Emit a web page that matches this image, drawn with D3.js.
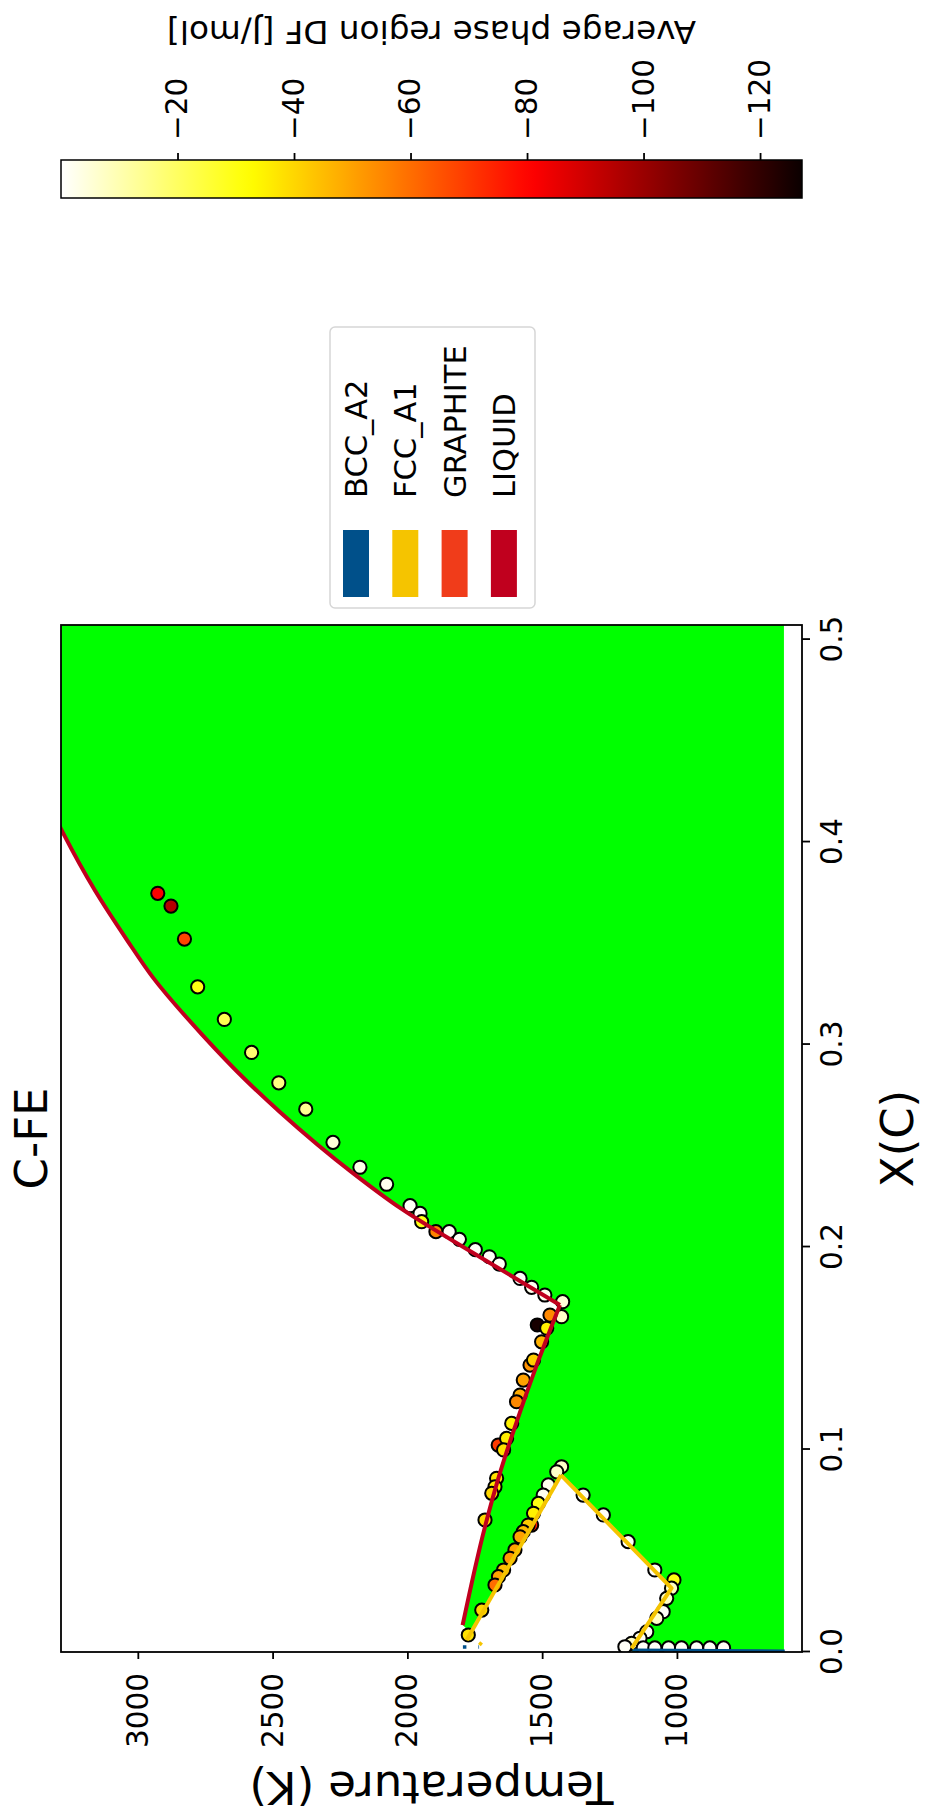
<!DOCTYPE html>
<html>
<head>
<meta charset="utf-8">
<script src="https://cdn.jsdelivr.net/npm/d3@7"></script>
<style>
  body { margin: 0; background: #fff; }
  text { font-family: "DejaVu Sans", sans-serif; fill: #000; }
</style>
</head>
<body>
<div id="chart"></div>
<script>
// ---- data ----
let xTicks = [0, 0.1, 0.2, 0.3, 0.4, 0.5];
let tTicks = [1000, 1500, 2000, 2500, 3000];
let dfTicks = [-20, -40, -60, -80, -100, -120];
let dfRange = [-127.2, 0];

let phases = ["BCC_A2", "FCC_A1", "GRAPHITE", "LIQUID"];
let phaseColors = ["#00508a", "#f5c400", "#f03c1a", "#c0001e"];

// phase boundary lines [X(C), T]
let liquidusFe = [[0.0133, 1795], [0.0619, 1712], [0.0882, 1657], [0.1096, 1605], [0.1407, 1523], [0.1714, 1434]];
let liquidusC = [[0.1714, 1434], [0.1951, 1731], [0.2193, 2027], [0.2365, 2202], [0.2667, 2473], [0.2825, 2600],
                 [0.3047, 2760], [0.3333, 2945], [0.3516, 3040], [0.3763, 3160], [0.4044, 3277], [0.4200, 3335]];
let fccLeft = [[0.0059, 1780], [0.0874, 1430]];
let fccRight = [[0.0874, 1430], [0.0315, 1020], [0.0018, 1168]];
let bccLine = [[0.0010, 1165], [0.0005, 600]];
let bccDelta = [[0.0025, 1794], [0.0025, 1734]];
let fccDelta = [[0.0046, 1734], [0.0018, 1706]];

// predicted region (green)
let regionPoly = [[0, 603], [0, 1165], [0.0018, 1168], [0.0315, 1020], [0.0874, 1430], [0.0095, 1764], [0.0133, 1795],
                  [0.0619, 1712], [0.0882, 1657], [0.1096, 1605], [0.1407, 1523], [0.1714, 1434],
                  [0.1951, 1731], [0.2193, 2027], [0.2365, 2202], [0.2667, 2473], [0.2825, 2600], [0.3047, 2760],
                  [0.3333, 2945], [0.3516, 3040], [0.3763, 3160], [0.4044, 3277], [0.4200, 3335],
                  [0.52, 3335], [0.52, 603]];

// scatter points: X(C), T (K), average DF (J/mol)
let ptX = [0.3747, 0.3684, 0.3521, 0.3285, 0.3124, 0.2961, 0.2811, 0.2681, 0.2517, 0.2394, 0.2310, 0.2204, 0.2166,
           0.2125, 0.2076, 0.2076, 0.2038, 0.1987, 0.1952, 0.1916, 0.1845, 0.1801, 0.1763, 0.1730, 0.1656, 0.1664,
           0.1615, 0.1599, 0.1532, 0.1417, 0.1442, 0.1343, 0.1269, 0.1236, 0.1129, 0.1022, 0.1055, 0.0998, 0.0858,
           0.0816, 0.0784, 0.0652, 0.0207, 0.0084,
           0.0915, 0.0890, 0.0825, 0.0775, 0.0734, 0.0685, 0.0627, 0.0627, 0.0594, 0.0569, 0.0504, 0.0463, 0.0405,
           0.0372, 0.0331,
           0.0775, 0.0677, 0.0545, 0.0405, 0.0356, 0.0315, 0.0265, 0.0199, 0.0166, 0.0100, 0.0068, 0.0043, 0.0026,
           0.0020, 0.0020, 0.0020, 0.0020, 0.0020, 0.0020, 0.0020];
let ptT = [2926, 2877, 2827, 2778, 2679, 2578, 2477, 2377, 2276, 2176, 2077, 1990, 1953,
           1947, 1894, 1845, 1807, 1748, 1696, 1659, 1582, 1539, 1490, 1424, 1428, 1471,
           1518, 1483, 1502, 1545, 1532, 1570, 1582, 1595, 1613, 1663, 1632, 1643, 1669,
           1675, 1687, 1712, 1724, 1774,
           1428, 1446, 1477, 1496, 1514, 1532, 1539, 1552, 1570, 1582, 1601, 1619, 1643,
           1662, 1675,
           1348, 1273, 1181, 1082, 1011, 1020, 1038, 1051, 1075, 1112, 1137, 1168, 1193,
           1125, 1082, 1031, 983, 927, 878, 827];
let ptDF = [-82, -95, -68, -30, -22, -18, -16, -14, -5, -3, -2, -1, -1,
            -30, -56, -1, -1, -1, -1, -1, -1, -2, -2, -5, -7, -55,
            -125, -35, -47, -53, -42, -50, -48, -55, -35, -70, -36, -38, -38,
            -36, -40, -40, -40, -38,
            -7, -7, -2, -2, -30, -35, -75, -42, -45, -50, -50, -52, -45,
            -50, -60,
            -1, -1, -1, -1, -30, -8, -7, -1, -7, -1, -1, -7, -1,
            -1, -1, -1, -1, -1, -1, -1];

// ---- layout (unrotated frame, then turned 90deg counter-clockwise) ----
let W = 1820, H = 931;
let plot = {left: 168, right: 1195, top: 61, bottom: 802};
let cbar = {left: 1622, right: 1660};

let svg = d3.select("#chart")
    .append("svg")
    .attr("width", H)
    .attr("height", W);

svg.append("rect").attr("width", H).attr("height", W).attr("fill", "#fff");

let g = svg.append("g")
    .attr("transform", "translate(0," + W + ") rotate(-90)");

let x = d3.scaleLinear().domain([0, 0.5072]).range([plot.left, plot.right]);
let y = d3.scaleLinear().domain([536, 3285]).range([plot.bottom, plot.top]);
let c = d3.scaleLinear().domain(dfRange).range([plot.bottom, plot.top]);

// matplotlib "hot"
let hot = d3.scaleLinear()
    .domain([0, 0.365, 0.746, 1])
    .range(["#0b0000", "#ff0000", "#ffff00", "#ffffff"])
    .clamp(true);
let colorOf = v => hot((v - dfRange[0]) / (dfRange[1] - dfRange[0]));

let line = d3.line()
    .x(d => x(d[0]))
    .y(d => y(d[1]));

let defs = svg.append("defs");
defs.append("clipPath").attr("id", "plotClip")
    .append("rect")
    .attr("x", plot.left).attr("y", plot.top)
    .attr("width", plot.right - plot.left)
    .attr("height", plot.bottom - plot.top);

let grad = defs.append("linearGradient")
    .attr("id", "hotGrad")
    .attr("x1", 0).attr("y1", 0).attr("x2", 0).attr("y2", 1);
d3.range(0, 1.0001, 0.02).forEach(o => {
    grad.append("stop").attr("offset", o).attr("stop-color", hot(1 - o));
});

let body = g.append("g").attr("clip-path", "url(#plotClip)");

// green region
body.append("path")
    .datum(regionPoly)
    .attr("fill", "#00ff00")
    .attr("d", d => line(d) + "Z");

// scatter
body.selectAll("circle")
    .data(ptX.map((d, i) => ({x: d, t: ptT[i], df: ptDF[i]})))
    .enter().append("circle")
    .attr("cx", d => x(d.x))
    .attr("cy", d => y(d.t))
    .attr("r", 6.6)
    .attr("fill", d => colorOf(d.df))
    .attr("stroke", "#000")
    .attr("stroke-width", 2);

// boundary lines
let curved = d3.line()
    .x(d => x(d[0]))
    .y(d => y(d[1]))
    .curve(d3.curveMonotoneX);

body.append("path").datum(bccLine)
    .attr("fill", "none").attr("stroke", phaseColors[0]).attr("stroke-width", 3)
    .attr("d", line);
body.append("path").datum(bccDelta)
    .attr("fill", "none").attr("stroke", phaseColors[0]).attr("stroke-width", 3.5)
    .attr("stroke-dasharray", "3.5 12").attr("d", line);
body.append("path").datum(fccDelta)
    .attr("fill", "none").attr("stroke", phaseColors[1]).attr("stroke-width", 3.5)
    .attr("stroke-dasharray", "3.5 7").attr("d", line);
[fccLeft, fccRight].forEach(seg => {
    body.append("path").datum(seg)
        .attr("fill", "none").attr("stroke", phaseColors[1]).attr("stroke-width", 4)
        .attr("stroke-linejoin", "round")
        .attr("d", line);
});
body.append("path").datum(liquidusFe)
    .attr("fill", "none").attr("stroke", phaseColors[3]).attr("stroke-width", 4)
    .attr("d", curved);
body.append("path").datum(liquidusC)
    .attr("fill", "none").attr("stroke", phaseColors[3]).attr("stroke-width", 4)
    .attr("d", curved);

// axes
function styleAxis(sel) {
    sel.select(".domain").remove();
    sel.selectAll(".tick line").attr("stroke", "#000").attr("stroke-width", 1.8);
    sel.selectAll(".tick text")
        .attr("font-size", "29.5px")
        .attr("font-family", "DejaVu Sans, sans-serif")
        .attr("fill", "#000");
}

g.append("g")
    .attr("transform", "translate(0," + plot.bottom + ")")
    .call(d3.axisBottom(x).tickValues(xTicks).tickFormat(d3.format(".1f")).tickSize(8).tickPadding(11))
    .call(styleAxis);

g.append("g")
    .attr("transform", "translate(" + plot.left + ",0)")
    .call(d3.axisLeft(y).tickValues(tTicks).tickFormat(d3.format("d")).tickSize(7).tickPadding(14))
    .call(styleAxis);

g.append("rect")
    .attr("x", plot.left).attr("y", plot.top)
    .attr("width", plot.right - plot.left)
    .attr("height", plot.bottom - plot.top)
    .attr("fill", "none").attr("stroke", "#000").attr("stroke-width", 1.8);

// colorbar
g.append("rect")
    .attr("x", cbar.left).attr("y", plot.top)
    .attr("width", cbar.right - cbar.left)
    .attr("height", plot.bottom - plot.top)
    .attr("fill", "url(#hotGrad)")
    .attr("stroke", "#000").attr("stroke-width", 1.5);

g.append("g")
    .attr("transform", "translate(" + cbar.right + ",0)")
    .call(d3.axisRight(c).tickValues(dfTicks).tickFormat(d3.format("d")).tickSize(7).tickPadding(13))
    .call(styleAxis);

g.append("text")
    .attr("transform", "translate(1799," + (plot.top + plot.bottom) / 2 + ") rotate(-90)")
    .attr("text-anchor", "middle")
    .attr("font-size", "32.7px")
    .text("Average phase region DF [J/mol]");

// titles
let midU = (plot.left + plot.right) / 2;
g.append("text")
    .attr("x", midU).attr("y", 47)
    .attr("text-anchor", "middle")
    .attr("font-size", "45px")
    .text("C-FE");

g.append("text")
    .attr("x", midU).attr("y", 913)
    .attr("text-anchor", "middle")
    .attr("font-size", "45px")
    .text("X(C)");

g.append("text")
    .attr("transform", "translate(48," + (plot.top + plot.bottom) / 2 + ") rotate(-90)")
    .attr("text-anchor", "middle")
    .attr("font-size", "45px")
    .text("Temperature (K)");

// legend
let legend = g.append("g");
legend.append("rect")
    .attr("x", 1212).attr("y", 330)
    .attr("width", 281).attr("height", 205)
    .attr("rx", 5)
    .attr("fill", "#fff")
    .attr("stroke", "#d6d6d6").attr("stroke-width", 1.5);

let item = legend.selectAll(".item")
    .data(phases)
    .enter().append("g")
    .attr("class", "item")
    .attr("transform", (d, i) => "translate(0," + (356 + i * 49.3) + ")");

item.append("rect")
    .attr("x", 1223).attr("y", -13)
    .attr("width", 67).attr("height", 26)
    .attr("fill", (d, i) => phaseColors[i]);

item.append("text")
    .attr("x", 1322).attr("y", 0)
    .attr("dy", "0.36em")
    .attr("font-size", "30.5px")
    .text(d => d);
</script>
</body>
</html>
